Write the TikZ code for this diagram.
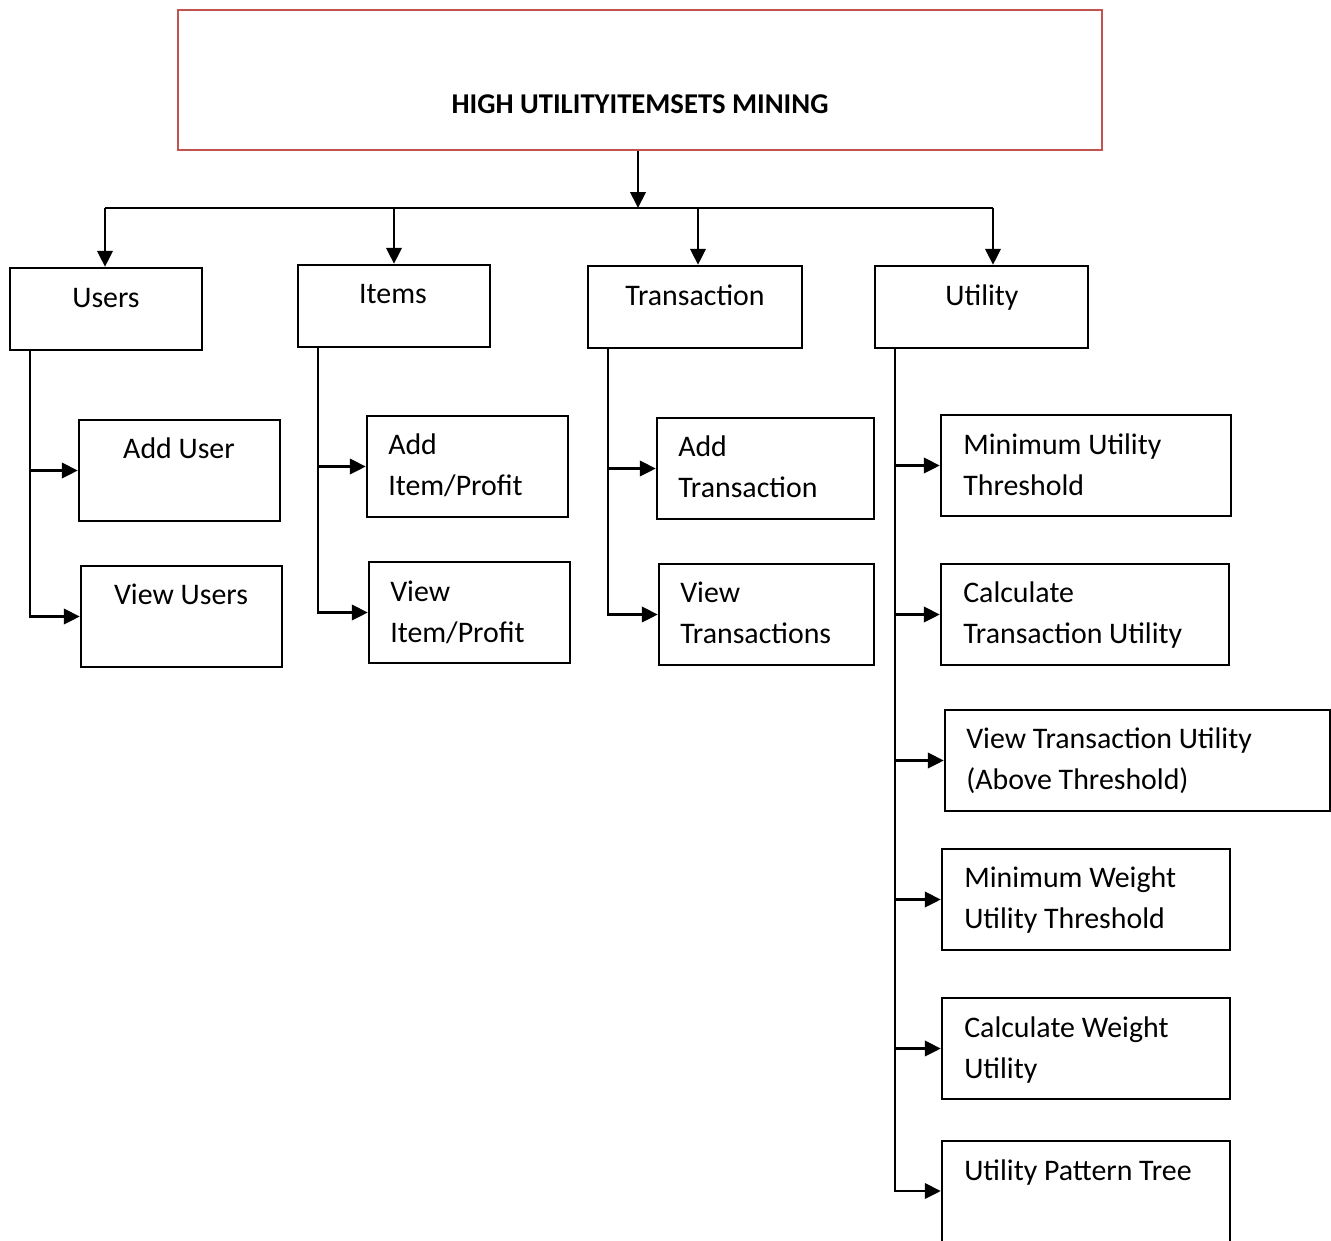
\documentclass[tikz,border=0pt]{standalone}
\usepackage{fontspec}
\setmainfont{Carlito}
\usetikzlibrary{arrows.meta,fit}
\begin{document}
\begin{tikzpicture}[x=0.75pt,y=-0.75pt,
  box/.style={draw, line width=1.8pt, inner sep=0pt},
  titlebox/.style={draw=titlered, line width=1.6pt, inner sep=0pt},
  ln/.style={line width=1.8pt},
  arr/.style={line width=2pt, -{Triangle[length=12pt,width=11.5pt]}},
  txt/.style={inner sep=0pt, font=\fontsize{22.4}{30.75}\selectfont},
  ltxt/.style={txt, anchor=base west, align=left},
  ctxt/.style={txt, anchor=base}]
\definecolor{titlered}{RGB}{196,82,80}
\useasboundingbox (0,0) rectangle (1331,1240);
\fill[white] (0,0) rectangle (1331,1240);
% title
\node[titlebox, fit={(178,10) (1102,150)}] (title) {};
\node[txt, anchor=base, font=\bfseries\fontsize{21.5}{24}\selectfont] (ttl) at (640,113) {HIGH UTILITYITEMSETS MINING};
% level 1 boxes
\node[box, fit={(10,268) (202,350)}] (users) {};
\node[ctxt] (tusers) at (106,307) {Users};
\node[box, fit={(298,265) (490,347)}] (items) {};
\node[ctxt] (titems) at (393,303) {Items};
\node[box, fit={(588,266) (802,348)}] (trans) {};
\node[ctxt] (ttrans) at (695,305) {Transaction};
\node[box, fit={(875,266) (1088,348)}] (util) {};
\node[ctxt] (tutil) at (982,305) {Utility};
% hub
\coordinate (hub) at (638,208);
\coordinate (c1) at (105,208);
\coordinate (c2) at (394,208);
\coordinate (c3) at (698,208);
\coordinate (c4) at (993,208);
\draw[arr] (title.south -| hub) -- (hub);
\draw[ln] (c1) -- (c4);
\draw[arr] (c1) -- (c1 |- users.north);
\draw[arr] (c2) -- (c2 |- items.north);
\draw[arr] (c3) -- (c3 |- trans.north);
\draw[arr] (c4) -- (c4 |- util.north);
% users children
\node[box, fit={(79,420) (280,521)}] (adduser) {};
\node[ctxt] (tadduser) at (179,458) {Add User};
\node[box, fit={(81,566) (282,667)}] (viewusers) {};
\node[ctxt] (tviewusers) at (181,604) {View Users};
\coordinate (u0) at (30,350);
\draw[arr] (u0) |- (viewusers.west);
\draw[arr] (u0 |- adduser.west) -- (adduser.west);
% items children
\node[box, fit={(367,416) (568,517)}] (additem) {};
\node[ltxt] (tadditem) at (388,495) {Add\\Item/Profit};
\node[box, fit={(369,562) (570,663)}] (viewitem) {};
\node[ltxt] (tviewitem) at (390,642) {View\\Item/Profit};
\coordinate (i0) at (318,347);
\draw[arr] (i0) |- (viewitem.west);
\draw[arr] (i0 |- additem.west) -- (additem.west);
% transaction children
\node[box, fit={(657,418) (874,519)}] (addtrans) {};
\node[ltxt] (taddtrans) at (678,497) {Add\\Transaction};
\node[box, fit={(659,564) (874,665)}] (viewtrans) {};
\node[ltxt] (tviewtrans) at (680,643) {View\\Transactions};
\coordinate (t0) at (608,348);
\draw[arr] (t0) |- (viewtrans.west);
\draw[arr] (t0 |- addtrans.west) -- (addtrans.west);
% utility children
\node[box, fit={(941,415) (1231,516)}] (minut) {};
\node[ltxt] (tminut) at (963,495) {Minimum Utility\\Threshold};
\node[box, fit={(941,564) (1229,665)}] (calctu) {};
\node[ltxt] (tcalctu) at (963,643) {Calculate\\Transaction Utility};
\node[box, fit={(945,710) (1330,811)}] (viewtu) {};
\node[ltxt] (tviewtu) at (966,789) {View Transaction Utility\\(Above Threshold)};
\node[box, fit={(942,849) (1230,950)}] (minwu) {};
\node[ltxt] (tminwu) at (964,928) {Minimum Weight\\Utility Threshold};
\node[box, fit={(942,998) (1230,1099)}] (calcwu) {};
\node[ltxt] (tcalcwu) at (964,1078) {Calculate Weight\\Utility};
\node[box, fit={(942,1141) (1230,1250)}] (upt) {};
\node[ltxt] (tupt) at (964,1180) {Utility Pattern Tree};
\coordinate (v0) at (895,348);
\draw[arr] (v0) |- (upt.west |- 0,1191);
\draw[arr] (v0 |- minut.west) -- (minut.west);
\draw[arr] (v0 |- calctu.west) -- (calctu.west);
\draw[arr] (v0 |- viewtu.west) -- (viewtu.west);
\draw[arr] (v0 |- minwu.west) -- (minwu.west);
\draw[arr] (v0 |- calcwu.west) -- (calcwu.west);
\end{tikzpicture}
\end{document}
